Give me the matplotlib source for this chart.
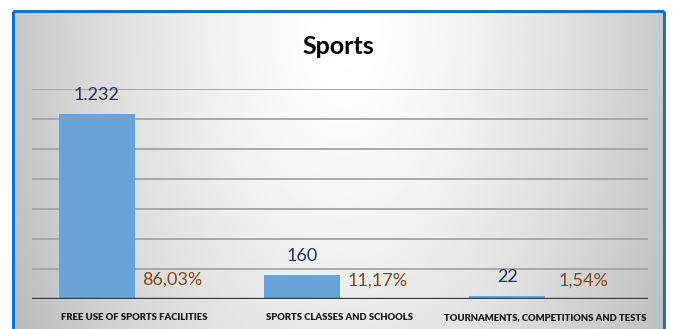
import numpy as np
import matplotlib.pyplot as plt

categories = ['FREE USE OF SPORTS FACILITIES', 'SPORTS CLASSES AND SCHOOLS',
              'TOURNAMENTS, COMPETITIONS AND TESTS']
counts = [1232, 160, 22]
count_labels = ['1.232', '160', '22']
shares = [0.8603, 0.1117, 0.0154]
share_labels = ['86,03%', '11,17%', '1,54%']

W, H = 673, 329
plt.rcParams['font.family'] = ['Lato', 'DejaVu Sans']

fig = plt.figure(figsize=(W / 100, H / 100), dpi=100)
fig.patch.set_facecolor('white')

# shaded chart area: white near the top centre, greying towards the sides
bg = fig.add_axes([0, 0, 1, 1])
bg.set_xlim(0, W)
bg.set_ylim(H, 0)
bg.axis('off')
x0, x1, y0, y1 = 13, 664, 11, H
xx, yy = np.meshgrid(np.linspace(x0, x1, 400), np.linspace(y0, y1, 200))
r = np.sqrt(((xx - 345) / 330) ** 2 + ((yy - 30) / 560) ** 2)
shade = np.clip(1.0 - 0.22 * r ** 1.5, 0, 1)
bg.imshow(shade, cmap='gray', vmin=0, vmax=1, extent=(x0, x1, y1, y0),
          aspect='auto', interpolation='bilinear')
bg.plot([x0, x0], [y1, y0], color='#1f6fc0', lw=2.2, solid_capstyle='butt')
bg.plot([x0, x1], [y0, y0], color='#1f6fc0', lw=2.2, solid_capstyle='butt')
bg.plot([x1, x1], [y0, y1], color='#1f6fc0', lw=2.2, solid_capstyle='butt')
bg.text(338, 46, 'Sports', ha='center', va='center', fontsize=18,
        fontweight='bold', color='black')

ax = fig.add_axes([32 / W, (H - 299) / H, 616 / W, 210 / H])
ax.patch.set_alpha(0)
x = np.arange(len(categories))
w = 0.37
ax.set_xlim(-0.5, len(categories) - 0.5)
ax.set_ylim(0, 1400)

for y in range(200, 1401, 200):
    ax.axhline(y, color='#a8a8a8', lw=1.4, zorder=1)

bars = ax.bar(x - w / 2, counts, width=w, color='#6aa3d8', zorder=2)
pct = ax.bar(x + w / 2, shares, width=w, color='#ed7d31', zorder=2)

for b, lab in zip(bars, count_labels):
    ax.annotate(lab, (b.get_x() + b.get_width() / 2, b.get_height()),
                xytext=(0, 13.5), textcoords='offset points',
                ha='center', va='center', fontsize=13, color='#1f3366')
for b, lab in zip(pct, share_labels):
    ax.annotate(lab, (b.get_x() + b.get_width() / 2, b.get_height()),
                xytext=(0, 13.5), textcoords='offset points',
                ha='center', va='center', fontsize=13, color='#8a4513')

ax.axhline(0, color='#3a3a3a', lw=2.4, zorder=3)
for s in ax.spines.values():
    s.set_visible(False)
ax.set_yticks([])
ax.set_xticks(x)
ax.set_xticklabels(categories, fontsize=6.8, fontweight='heavy', color='#1a1a1a')
ax.tick_params(axis='x', length=0, pad=10)

fig.savefig('out.png', dpi=100)
